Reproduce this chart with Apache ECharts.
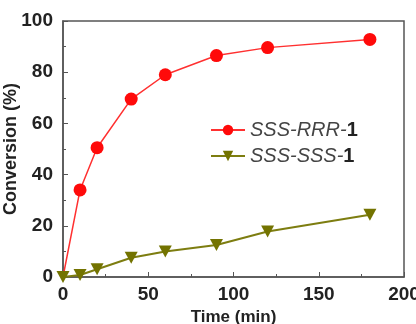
<!DOCTYPE html>
<html>
<head>
<meta charset="utf-8">
<script src="https://cdn.jsdelivr.net/npm/echarts@6/dist/echarts.min.js"></script>
<style>
  html, body { margin: 0; padding: 0; background: #fff; }
  #chart { width: 416px; height: 324px; }
</style>
</head>
<body>
<div id="chart"></div>
<script>
var timeRRR = [0, 10, 20, 40, 60, 90, 120, 180];
var convRRR = [0, 34, 50.5, 69.5, 79, 86.5, 89.6, 92.8];
var timeSSS = [0, 10, 20, 40, 60, 90, 120, 180];
var convSSS = [0, 0.8, 3, 7.5, 10, 12.5, 17.8, 24.3];
var seriesNames = ['SSS-RRR-1', 'SSS-SSS-1'];

function pairs(xs, ys, hideFirst) {
    return xs.map(function (x, i) {
        // first point sits on the origin, marker not visible in the figure
        if (hideFirst && i === 0) return { value: [x, ys[i]], symbol: 'none' };
        return [x, ys[i]];
    });
}

var chart = echarts.init(document.getElementById('chart'));
var axisCol = '#555';
var labelFont = { color: '#222', fontSize: 19, fontWeight: 'bold', fontFamily: 'Liberation Sans, Arial' };

chart.setOption({
    animation: false,
    grid: {
        left: 63, right: 12, top: 21, bottom: 47,
        outerBoundsMode: 'none',
        containLabel: false,
        show: true, borderColor: axisCol, borderWidth: 1.5
    },
    legend: {
        orient: 'vertical',
        left: 205,
        top: 115,
        itemWidth: 34,
        itemHeight: 13,
        itemGap: 6,
        data: seriesNames,
        formatter: function (name) {
            var k = name.lastIndexOf('-');
            return '{i|' + name.slice(0, k + 1) + '}{n|' + name.slice(k + 1) + '}';
        },
        textStyle: {
            rich: {
                i: { fontStyle: 'italic', fontSize: 20, color: '#444', fontFamily: 'Liberation Sans, Arial' },
                n: { fontWeight: 'bold', fontSize: 20, color: '#222', fontFamily: 'Liberation Sans, Arial' }
            }
        }
    },
    xAxis: {
        type: 'value',
        min: 0, max: 200, interval: 50,
        name: 'Time (min)',
        nameLocation: 'middle',
        nameGap: 32,
        nameMoveOverlap: false,
        nameTextStyle: { color: '#222', fontSize: 17, fontWeight: 'bold', fontFamily: 'Liberation Sans, Arial' },
        axisLine: { lineStyle: { color: axisCol, width: 1.5 } },
        axisTick: { inside: true, length: 5, lineStyle: { color: axisCol } },
        minorTick: { show: true, splitNumber: 2, length: 3, lineStyle: { color: axisCol } },
        axisLabel: Object.assign({ margin: 8 }, labelFont),
        splitLine: { show: false }
    },
    yAxis: {
        type: 'value',
        min: 0, max: 100, interval: 20,
        name: 'Conversion (%)',
        nameLocation: 'middle',
        nameGap: 43,
        nameMoveOverlap: false,
        nameTextStyle: { color: '#222', fontSize: 18, fontWeight: 'bold', fontFamily: 'Liberation Sans, Arial' },
        axisLine: { show: true, lineStyle: { color: axisCol, width: 1.5 } },
        axisTick: { show: true, inside: true, length: 5, lineStyle: { color: axisCol } },
        minorTick: { show: true, splitNumber: 2, length: 3, lineStyle: { color: axisCol } },
        axisLabel: Object.assign({ margin: 10 }, labelFont),
        splitLine: { show: false }
    },
    series: [
        {
            name: seriesNames[0],
            type: 'line',
            data: pairs(timeRRR, convRRR, true),
            symbol: 'circle',
            symbolSize: 13,
            color: '#ff0a0a',
            lineStyle: { width: 1.5, color: '#ff3030' }
        },
        {
            name: seriesNames[1],
            type: 'line',
            data: pairs(timeSSS, convSSS, false),
            symbol: 'triangle',
            symbolRotate: 180,
            symbolSize: [13, 12],
            color: '#737300',
            lineStyle: { width: 2, color: '#7d7d10' }
        }
    ]
});
</script>
</body>
</html>
